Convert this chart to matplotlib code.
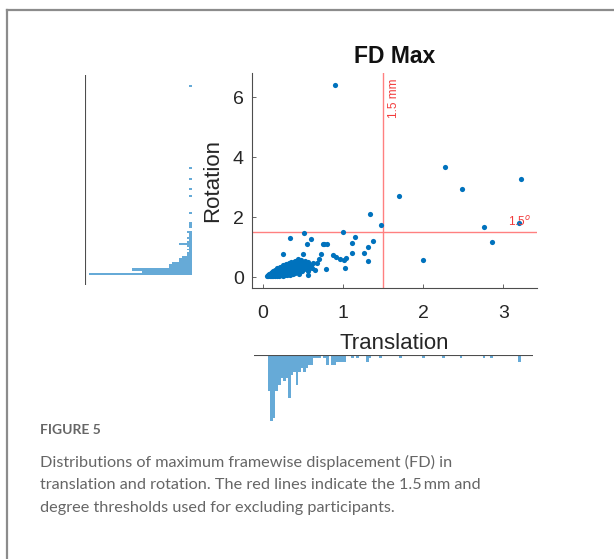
import matplotlib.pyplot as plt
from matplotlib.lines import Line2D
import numpy as np

plt.rcParams['font.family'] = ['Liberation Sans', 'DejaVu Sans']

# scatter: max FD translation (mm) vs rotation (deg)
# outlying / isolated subjects
trans_out = [0.90, 2.27, 3.22, 2.49, 1.70, 1.34, 1.47, 2.76, 3.20, 2.86, 2.00,
             1.00, 0.51, 0.34, 0.60, 1.15, 1.12, 1.38, 1.32, 1.26, 1.32, 1.11,
             1.03, 0.79, 0.75, 0.77, 0.80, 0.55, 0.25, 0.50, 0.73, 0.70, 0.68,
             0.88, 0.92, 0.97, 1.01, 1.04, 0.56]
rot_out = [6.41, 3.67, 3.29, 2.94, 2.70, 2.10, 1.73, 1.67, 1.82, 1.18, 0.59,
           1.50, 1.47, 1.32, 1.28, 1.36, 1.16, 1.22, 1.00, 0.82, 0.54, 0.83,
           0.30, 0.28, 1.10, 1.10, 1.10, 1.12, 0.79, 0.79, 0.78, 0.63, 0.49,
           0.76, 0.68, 0.62, 0.58, 0.66, 0.07]
# dense low-motion cluster
trans_low = [0.06, 0.07, 0.07, 0.08, 0.08, 0.09, 0.09, 0.10, 0.10, 0.11, 0.11,
             0.12, 0.12, 0.12, 0.13, 0.13, 0.13, 0.14, 0.14, 0.15, 0.15, 0.15,
             0.16, 0.16, 0.17, 0.17, 0.17, 0.18, 0.18, 0.18, 0.19, 0.19, 0.19,
             0.20, 0.20, 0.20, 0.21, 0.21, 0.21, 0.22, 0.22, 0.22, 0.23, 0.23,
             0.23, 0.24, 0.24, 0.24, 0.25, 0.25, 0.25, 0.26, 0.26, 0.26, 0.26,
             0.27, 0.27, 0.27, 0.28, 0.28, 0.28, 0.29, 0.29, 0.29, 0.30, 0.30,
             0.30, 0.31, 0.31, 0.31, 0.32, 0.32, 0.32, 0.33, 0.33, 0.33, 0.34,
             0.34, 0.34, 0.35, 0.35, 0.35, 0.36, 0.36, 0.36, 0.37, 0.37, 0.37,
             0.38, 0.38, 0.38, 0.39, 0.39, 0.39, 0.40, 0.40, 0.40, 0.41, 0.41,
             0.42, 0.42, 0.43, 0.43, 0.44, 0.44, 0.45, 0.45, 0.46, 0.46, 0.47,
             0.47, 0.48, 0.48, 0.49, 0.50, 0.50, 0.51, 0.52, 0.53, 0.54, 0.55,
             0.56, 0.57, 0.58, 0.60, 0.62, 0.63, 0.65]
rot_low = [0.06, 0.09, 0.05, 0.12, 0.07, 0.04, 0.10, 0.15, 0.06, 0.09, 0.13,
           0.05, 0.18, 0.08, 0.10, 0.06, 0.22, 0.14, 0.08, 0.05, 0.11, 0.26,
           0.17, 0.07, 0.12, 0.09, 0.20, 0.06, 0.15, 0.30, 0.10, 0.23, 0.13,
           0.07, 0.18, 0.11, 0.27, 0.14, 0.05, 0.09, 0.21, 0.34, 0.12, 0.16,
           0.07, 0.25, 0.10, 0.19, 0.13, 0.30, 0.06, 0.22, 0.15, 0.09, 0.40,
           0.12, 0.26, 0.18, 0.08, 0.33, 0.21, 0.14, 0.28, 0.44, 0.11, 0.19,
           0.36, 0.24, 0.07, 0.15, 0.30, 0.41, 0.20, 0.12, 0.26, 0.48, 0.18,
           0.35, 0.09, 0.28, 0.22, 0.52, 0.14, 0.40, 0.31, 0.24, 0.45, 0.17,
           0.34, 0.28, 0.10, 0.50, 0.21, 0.38, 0.30, 0.43, 0.15, 0.26, 0.55,
           0.35, 0.19, 0.46, 0.29, 0.60, 0.23, 0.39, 0.13, 0.50, 0.31, 0.25,
           0.42, 0.36, 0.57, 0.20, 0.47, 0.33, 0.40, 0.27, 0.56, 0.36, 0.45,
           0.22, 0.51, 0.33, 0.42, 0.30, 0.47, 0.25]
trans = trans_out + trans_low
rot = rot_out + rot_low

# marginal histograms (100 bins each), counts
trans_edges = np.linspace(0.07, 3.22, 101)
trans_counts = np.zeros(100)
trans_counts[:32] = [11, 20, 19, 11, 9, 7, 8, 7, 13, 6, 5, 9, 5, 4, 5, 4,
                     3, 3, 1, 1, 1, 0, 1, 3, 0, 3, 3, 2, 2, 2, 2, 0]
trans_counts[[33, 35, 39, 40, 44, 52, 61, 69, 76, 85, 88, 99]] = \
    [1, 1, 2, 1, 1, 1, 1, 1, 1, 1, 1, 2]

rot_edges = np.linspace(0.07, 6.41, 101)
rot_counts = np.zeros(100)
rot_counts[:23] = [41, 20, 24, 24, 9, 9, 8, 5, 5, 4, 2, 2, 1, 2, 1, 2,
                   5, 2, 1, 2, 1, 1, 2]
rot_counts[[25, 26, 27, 32, 41, 45, 50, 56, 99]] = 1

caption_lines = ['Distributions of maximum framewise displacement (FD) in',
                 'translation and rotation. The red lines indicate the 1.5\u2009mm and',
                 'degree thresholds used for excluding participants.']

blue = '#0072BD'
hist_blue = '#66AAD7'
red = '#FF8080'
axis_grey = '#4D4D4D'
text_dark = '#262626'

fig = plt.figure(figsize=(6.14, 5.59), dpi=100)

ax = fig.add_axes([0.4104, 0.4848, 0.4642, 0.3846])
ax.scatter(trans, rot, s=14, color=blue, linewidths=0, zorder=3)
ax.axvline(1.5, color=red, lw=1.0)
ax.axhline(1.5, color=red, lw=1.0)
ax.text(1.64, 6.62, '1.5 mm', color='#F23B3B', fontsize=8.5, rotation=90,
        ha='center', va='top')
ax.text(3.06, 1.6, r'1.5$^o$', color='#F23B3B', fontsize=8.5,
        ha='left', va='bottom')
ax.set_xlim(-0.132, 3.42)
ax.set_ylim(-0.35, 6.8)
ax.set_xticks([0, 1, 2, 3])
ax.set_yticks([0, 2, 4, 6])
for s in ['top', 'right']:
    ax.spines[s].set_visible(False)
for s in ['left', 'bottom']:
    ax.spines[s].set_color(axis_grey)
    ax.spines[s].set_linewidth(0.8)
ax.tick_params(direction='in', length=3, width=0.6, color=axis_grey,
               labelsize=14, labelcolor=text_dark)
ax.tick_params(axis='x', pad=12)
ax.tick_params(axis='y', pad=6)
ax.set_xlabel('Translation', fontsize=16, color=text_dark, labelpad=8)
ax.set_ylabel('Rotation', fontsize=16, color=text_dark, labelpad=7)
ax.set_title('FD Max', fontsize=16.5, fontweight='bold', color='#111111', pad=7)

# left: rotation histogram
axl = fig.add_axes([0.1384, 0.4902, 0.1743, 0.3757])
axl.barh(rot_edges[:-1], rot_counts, height=np.diff(rot_edges), align='edge',
         color=hist_blue, linewidth=0)
axl.set_ylim(-0.257, 6.743)
axl.set_xlim(42.6, 0)
axl.axis('off')
axl.add_line(Line2D([0, 0], [0, 1], transform=axl.transAxes,
                    color=axis_grey, lw=0.8))

# bottom: translation histogram
axb = fig.add_axes([254 / 614, 0.2397, 279 / 614, 0.1252])
axb.bar(trans_edges[:-1], trans_counts, width=np.diff(trans_edges),
        align='edge', color=hist_blue, linewidth=0)
axb.set_xlim(-0.103, 3.375)
axb.set_ylim(21.2, 0)
axb.axis('off')
axb.add_line(Line2D([0, 1], [1, 1], transform=axb.transAxes,
                    color=axis_grey, lw=0.8))

# page frame and caption
fig.add_artist(Line2D([7 / 614, 1], [1 - 10 / 559] * 2, color='#8C8C8C', lw=1.6))
fig.add_artist(Line2D([7 / 614] * 2, [0, 1 - 10 / 559], color='#8C8C8C', lw=1.6))
fig.text(40 / 614, 1 - 430 / 559, 'FIGURE 5', fontsize=10, color='#666666',
         family=['Lato', 'DejaVu Sans'], fontweight='bold', va='center')
for i, line in enumerate(caption_lines):
    fig.text(40 / 614, 1 - (462 + 23 * i) / 559, line, fontsize=11.7,
             color='#666666', family=['Lato', 'DejaVu Sans'], va='center')

fig.savefig('out.png', dpi=100)
